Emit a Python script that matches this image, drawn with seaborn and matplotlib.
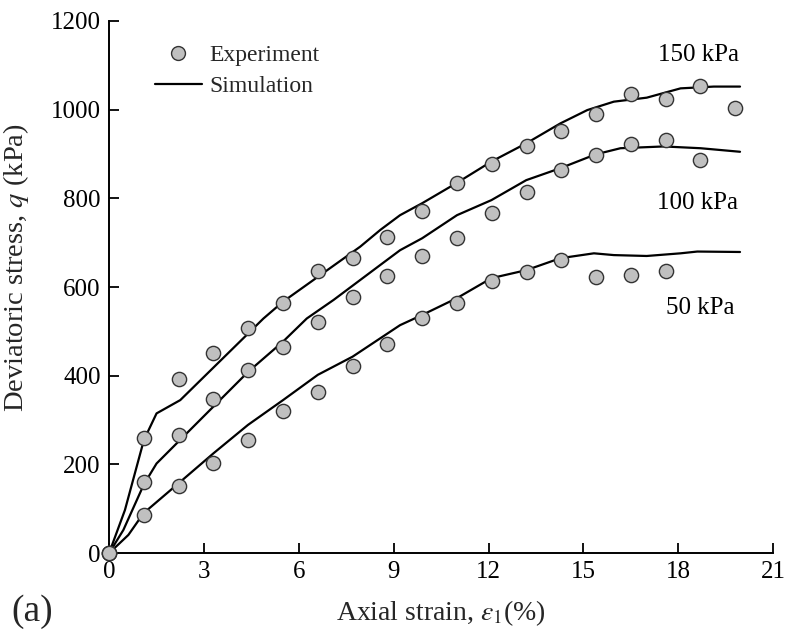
import numpy as np
import pandas as pd
import matplotlib
matplotlib.use("Agg")
import matplotlib.pyplot as plt
import seaborn as sns
from matplotlib.lines import Line2D

# ---- data ----
exp_strain = [0, 1.1, 2.2, 3.3, 4.4, 5.5, 6.6, 7.7, 8.8, 9.9, 11.0, 12.1, 13.2, 14.3, 15.4, 16.5, 17.6, 18.7, 19.8]
exp_50 = [0, 86, 152, 204, 256, 320, 364, 422, 471, 531, 565, 614, 633, 661, 623, 627, 636]
exp_100 = [0, 161, 266, 347, 414, 465, 522, 578, 625, 671, 711, 767, 815, 865, 898, 922, 931, 886]
exp_150 = [0, 259, 392, 451, 508, 563, 637, 665, 713, 771, 834, 878, 918, 952, 990, 1035, 1023, 1053, 1004]

sim50_x = [0, 0.3, 0.61, 1.09, 2.19, 3.3, 4.39, 5.5, 6.6, 7.7, 9.2, 9.9, 11.0, 12.09, 13.19, 14.27, 15.33, 15.96, 17.0, 18.07, 18.6, 19.95]
sim50_y = [0, 20, 41, 90, 157, 225, 289, 345, 402, 443, 514, 537, 575, 620, 638, 665, 676, 672, 670, 676, 680, 679]
sim100_x = [0, 0.45, 1.1, 1.5, 4.4, 5.5, 6.25, 7.1, 8.58, 9.2, 9.9, 11.0, 12.09, 13.19, 14.27, 15.38, 16.17, 17.54, 18.7, 19.95]
sim100_y = [0, 52, 155, 202, 409, 477, 529, 571, 650, 683, 710, 762, 796, 841, 868, 899, 913, 917, 913, 905]
sim150_x = [0, 0.5, 1.1, 1.5, 2.25, 4.88, 5.5, 7.94, 8.58, 9.2, 9.9, 11.0, 12.09, 13.19, 14.27, 15.12, 15.96, 17.0, 18.07, 19.12, 19.95]
sim150_y = [0, 97, 255, 315, 345, 529, 567, 691, 729, 762, 789, 835, 883, 924, 969, 999, 1018, 1027, 1048, 1052, 1052]

labels = ["50 kPa", "100 kPa", "150 kPa"]
label_pos_x = [18.7, 18.6, 18.65]
label_pos_y = [553, 790, 1123]
x_ticks = [0, 3, 6, 9, 12, 15, 18, 21]
y_ticks = [0, 200, 400, 600, 800, 1000, 1200]

# ---- frames ----
exp_df = pd.concat([
    pd.DataFrame({"strain": exp_strain[:len(v)], "q": v, "case": lab})
    for v, lab in zip([exp_50, exp_100, exp_150], labels)
])
sim_df = pd.concat([
    pd.DataFrame({"strain": x, "q": y, "case": lab})
    for x, y, lab in zip([sim50_x, sim100_x, sim150_x], [sim50_y, sim100_y, sim150_y], labels)
])

sns.set_theme(style="ticks")
plt.rcParams["font.family"] = ["Liberation Serif", "DejaVu Serif"]
plt.rcParams["mathtext.fontset"] = "stix"

fig = plt.figure(figsize=(7.85, 6.35), dpi=100)
ax = fig.add_axes([0.139, 0.129, 0.846, 0.838])

sns.lineplot(data=sim_df, x="strain", y="q", units="case", estimator=None,
             color="black", linewidth=1.6, sort=False, ax=ax, legend=False)
sns.scatterplot(data=exp_df, x="strain", y="q", color="#c0c0c0", edgecolor="#333333",
                linewidth=1.0, s=105, ax=ax, legend=False, clip_on=False, zorder=3)

for lab, lx, ly in zip(labels, label_pos_x, label_pos_y):
    ax.text(lx, ly, lab, ha="center", va="center", fontsize=18, color="black")

ax.set_xlim(0, 21)
ax.set_ylim(0, 1200)
ax.set_xticks(x_ticks)
ax.set_yticks(y_ticks)
ax.tick_params(direction="in", length=7, width=1.3, labelsize=18, colors="black", pad=6)
for s in ["top", "right"]:
    ax.spines[s].set_visible(False)
for s in ["left", "bottom"]:
    ax.spines[s].set_linewidth(1.4)
    ax.spines[s].set_color("black")

ax.set_xlabel(r"Axial strain, $\varepsilon_1$(%)", fontsize=20)
ax.set_ylabel(r"Deviatoric stress, $q$ (kPa)", fontsize=20.5)
ax.xaxis.set_label_coords(0.5, -0.085)
ax.yaxis.set_label_coords(-0.117, 0.536)

handles = [
    Line2D([], [], marker="o", linestyle="none", markersize=10, markerfacecolor="#c0c0c0",
           markeredgecolor="#333333", markeredgewidth=1.0),
    Line2D([], [], color="black", linewidth=1.6),
]
ax.legend(handles, ["Experiment", "Simulation"], loc="upper left", bbox_to_anchor=(0.051, 0.978),
          frameon=False, fontsize=17, handlelength=2.0, handletextpad=0.3, labelspacing=0.42,
          borderpad=0)

fig.text(0.015, 0.037, "(a)", fontsize=27, ha="left", va="center")

fig.savefig("out.png", dpi=100)
